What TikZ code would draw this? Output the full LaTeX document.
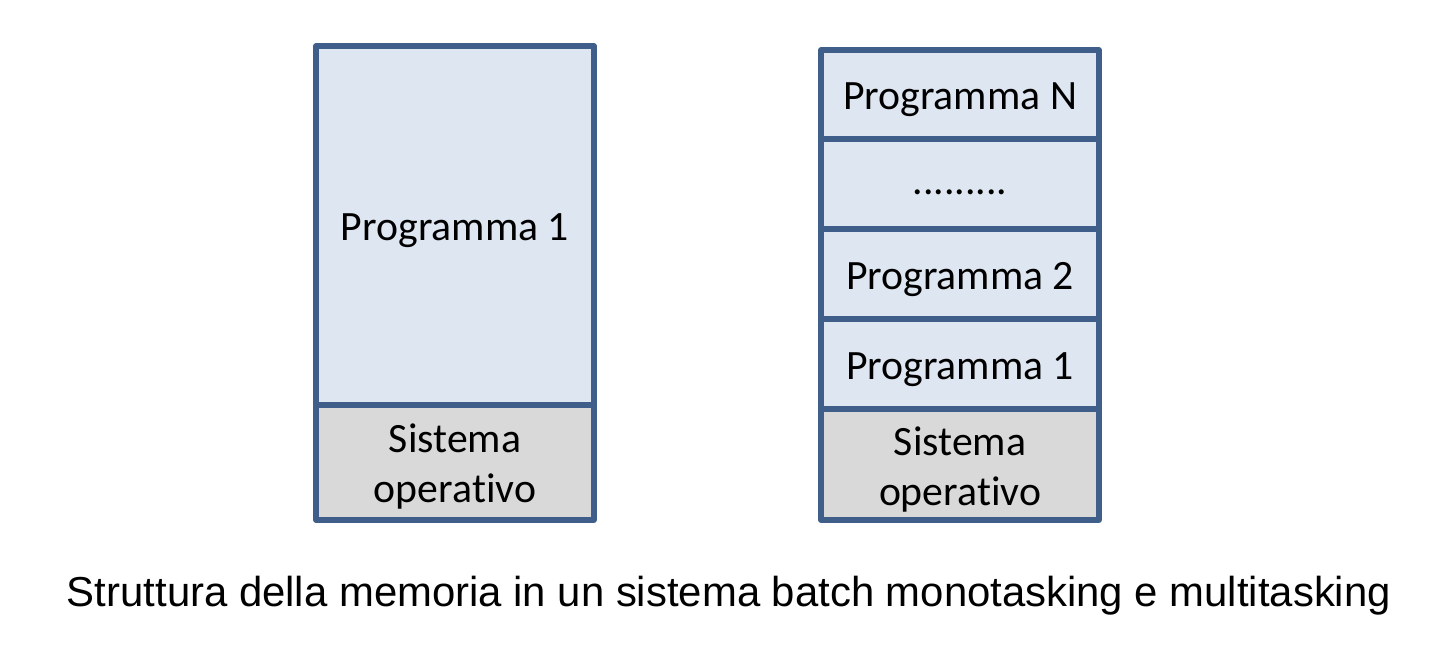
\documentclass[tikz,border=0pt]{standalone}
\usepackage{fontspec}
\setmainfont{Carlito}[Ligatures=NoCommon]
\newfontfamily\capfont{Liberation Sans}
\definecolor{edgeblue}{HTML}{3F5E8A}
\definecolor{progfill}{HTML}{DEE6F1}
\definecolor{osfill}{HTML}{D9D9D9}
\begin{document}
\begin{tikzpicture}[x=0.75pt,y=-0.75pt,
  seg/.style={draw=edgeblue,line width=3.8pt,line join=round,inner sep=0pt,outer sep=0pt},
  prog/.style={seg,fill=progfill},
  os/.style={seg,fill=osfill},
  lbl/.style={font=\fontsize{31.3}{37.5}\selectfont,align=center,inner sep=0pt}]
\useasboundingbox (0,0) rectangle (1430,656);
% left (monotasking)
\draw[prog] (316,46) rectangle (594,405);
\draw[os] (316,405) rectangle (594,520);
\node[lbl] (l1) at (455,231) {Programma 1};
\node[lbl] (los) at (455,467) {Sistema\\operativo};
% right (multitasking)
\draw[prog] (821,50) rectangle (1099,139);
\draw[prog] (821,139) rectangle (1099,229);
\draw[prog] (821,229) rectangle (1099,319);
\draw[prog] (821,319) rectangle (1099,409);
\draw[os] (821,409) rectangle (1099,520);
\node[lbl] (rn) at (960,100) {Programma N};
\node[lbl] (rd) at (960,192) {.........};
\node[lbl] (r2) at (960,280) {Programma 2};
\node[lbl] (r1) at (960,370) {Programma 1};
\node[lbl] (ros) at (960,470) {Sistema\\operativo};
% caption
\node[inner sep=0pt,font=\capfont\fontsize{31.4}{37}\selectfont] (cap) at (729,596) {Struttura della memoria in un sistema batch monotasking e multitasking};
\end{tikzpicture}
\end{document}
